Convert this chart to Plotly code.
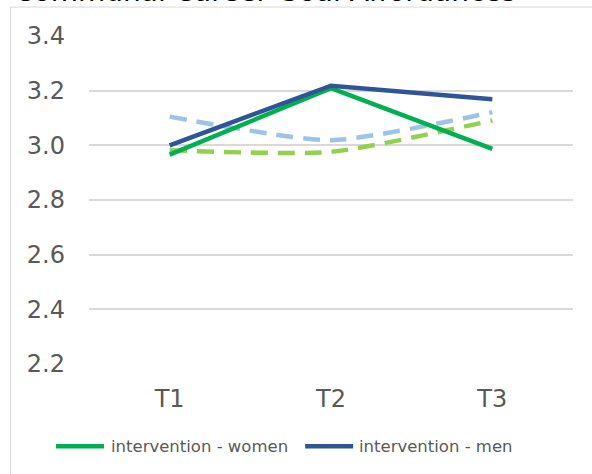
import plotly.graph_objects as go

# Survey waves and mean scores per group
waves = ["T1", "T2", "T3"]
intervention_women = [2.966, 3.209, 2.987]
intervention_men = [3.000, 3.218, 3.169]
control_men = [3.105, 3.019, 3.121]
control_women = [2.982, 2.976, 3.091]
y_ticks = [2.2, 2.4, 2.6, 2.8, 3.0, 3.2, 3.4]

W, H = 592, 474
L, R, T, B = 89, 19.3, 35.7, 109.7
plot_w = W - L - R
plot_h = H - T - B


def px_x(px):
    return (px - L) / plot_w


def px_y(py):
    return 1 - (py - T) / plot_h


FONT = "DejaVu Sans"
GREY = "#595959"

series = [
    ("control - men", control_men, "#9DC3E6", True),
    ("control - women", control_women, "#92D050", True),
    ("intervention - women", intervention_women, "#00B050", False),
    ("intervention - men", intervention_men, "#2F5597", False),
]

fig = go.Figure()
for name, vals, color, dashed in series:
    line = dict(color=color, width=4.5)
    if dashed:
        line.update(dash="17px,10px", shape="spline", smoothing=0.6)
    fig.add_trace(go.Scatter(x=waves, y=vals, name=name, mode="lines",
                             line=line, showlegend=False))

fig.update_layout(
    width=W, height=H,
    margin=dict(l=L, r=R, t=T, b=B, pad=0),
    paper_bgcolor="white", plot_bgcolor="white",
    font=dict(family=FONT, color=GREY),
    showlegend=False,
    xaxis=dict(
        type="category", range=[-0.5, 2.5],
        showgrid=False, zeroline=False, showline=False,
        ticks="", ticklabelstandoff=18,
        tickfont=dict(family=FONT, size=24, color=GREY),
    ),
    yaxis=dict(
        range=[2.2, 3.4], tickvals=y_ticks, ticktext=[f"{v:.1f}" for v in y_ticks],
        showgrid=True, gridcolor="#D9D9D9", gridwidth=1.5,
        zeroline=False, showline=False,
        ticks="", ticklabelstandoff=23,
        tickfont=dict(family=FONT, size=24, color=GREY),
    ),
)

# Chart frame (extends past the right and bottom edges of the page)
fig.add_shape(
    type="rect", xref="paper", yref="paper",
    x0=px_x(10.5), x1=px_x(700), y0=px_y(700), y1=px_y(6.7),
    line=dict(color="#D9D9D9", width=1), fillcolor="rgba(0,0,0,0)", layer="below",
)

# Legend row for the two intervention series
legend_y = px_y(446.7)
legend_items = [
    ("intervention - women", "#00B050", 56, 109),
    ("intervention - men", "#2F5597", 305, 357),
]
for label, color, x_line, x_text in legend_items:
    fig.add_shape(
        type="line", xref="paper", yref="paper",
        x0=px_x(x_line), x1=px_x(x_line + 48), y0=legend_y, y1=legend_y,
        line=dict(color=color, width=4.5),
    )
    fig.add_annotation(
        text=label, xref="paper", yref="paper",
        x=px_x(x_text), y=legend_y, xanchor="left", yanchor="middle",
        showarrow=False, font=dict(family=FONT, size=16.5, color=GREY),
    )

# Title sitting at the top edge
fig.add_annotation(
    text="Communal Career Goal Affordances",
    xref="paper", yref="paper", x=px_x(265), y=px_y(10),
    xanchor="center", yanchor="bottom", showarrow=False,
    font=dict(family=FONT, size=28, color="#000000"),
)

fig.write_html("out.html")
